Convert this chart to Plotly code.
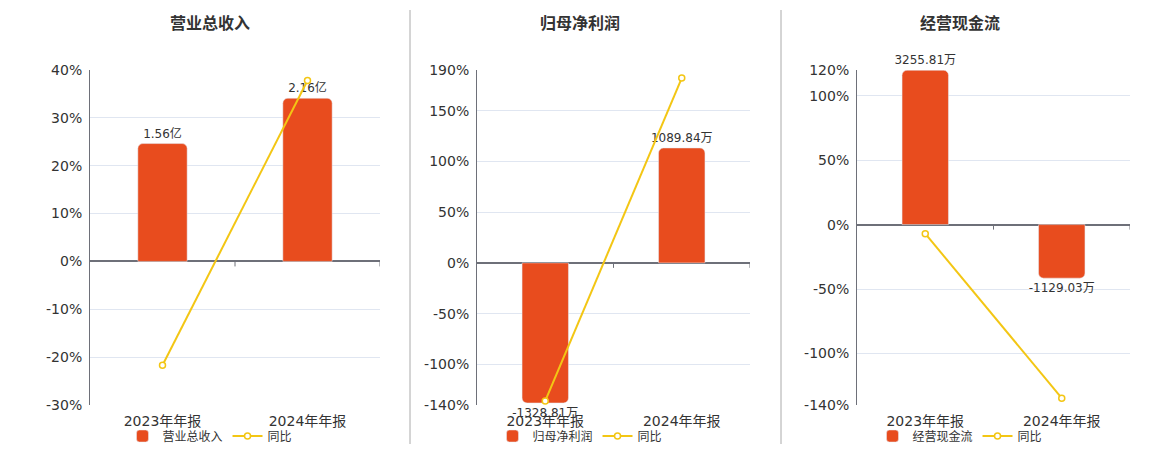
import plotly.graph_objects as go

W, H = 1160, 450
OFF = 8  # page margin around the figure

periods = ['2023年年报', '2024年年报']

titles = ['营业总收入', '归母净利润', '经营现金流']

revenue = [1.56, 2.16]            # 亿
revenue_yoy = [-21.7, 37.8]       # %
net_profit = [-1328.81, 1089.84]  # 万
net_profit_yoy = [-136.0, 182.0]
cash_flow = [3255.81, -1129.03]   # 万
cash_flow_yoy = [-7.0, -134.7]

units = ['亿', '万', '万']

pct_ticks = [
    [-30, -20, -10, 0, 10, 20, 30, 40],
    [-140, -100, -50, 0, 50, 100, 150, 190],
    [-140, -100, -50, 0, 50, 100, 120],
]

BAR_COLOR = '#e84c1e'
LINE_COLOR = '#f3c614'
AXIS_COLOR = '#6e7079'
GRID_COLOR = '#e0e6f1'
TXT = '#333333'


def fx(px):
    return (px - OFF) / W


def fy(py):
    return 1 - (py - OFF) / H


# pixel layout of each panel: plot left/right, title/legend center
panels = [
    dict(left=90, right=380, center=210, peak=34.1),
    dict(left=477, right=750, center=580, peak=138.0),
    dict(left=857, right=1130, center=960, peak=119.8),
]
top_px, bottom_px = 70, 405

values = [revenue, net_profit, cash_flow]
yoys = [revenue_yoy, net_profit_yoy, cash_flow_yoy]

fig = go.Figure()

for i in range(3):
    n = '' if i == 0 else str(i + 1)
    bar_ax = 'y' + n
    pct_ax = 'y' + str(i + 4)
    x_ax = 'x' + n
    leg = 'legend' + n

    vals = values[i]
    fig.add_trace(go.Bar(
        x=periods, y=vals,
        xaxis=x_ax, yaxis=bar_ax,
        name=titles[i],
        marker=dict(color=BAR_COLOR, cornerradius=5),
        width=0.34,
        text=[f'{v:.2f}{units[i]}' for v in vals],
        textposition='outside',
        textfont=dict(size=12, color=TXT, family='DejaVu Sans, Noto Sans CJK SC'),
        constraintext='none',
        cliponaxis=False,
        legend=leg,
    ))
    fig.add_trace(go.Scatter(
        x=periods, y=yoys[i],
        xaxis=x_ax, yaxis=pct_ax,
        name='同比',
        mode='lines+markers',
        line=dict(color=LINE_COLOR, width=2),
        marker=dict(symbol='circle', size=6, color='white',
                    line=dict(color=LINE_COLOR, width=1.5)),
        cliponaxis=False,
        legend=leg,
    ))

    p = panels[i]
    dom_x = [fx(p['left']), fx(p['right'])]
    dom_y = [fy(bottom_px), fy(top_px)]
    ticks = pct_ticks[i]
    lo, hi = ticks[0], ticks[-1]
    scale = max(abs(v) for v in vals) / p['peak']

    fig.update_layout({
        'xaxis' + n: dict(
            domain=dom_x, anchor=bar_ax, type='category',
            range=[-0.5, 1.5],
            showgrid=False, showline=False, zeroline=False,
            tickfont=dict(size=14, color=TXT, family='DejaVu Sans, Noto Sans CJK SC'),
            ticks='', ticklabelstandoff=6,
        ),
        'yaxis' + n: dict(
            domain=dom_y, anchor=x_ax,
            range=[lo * scale, hi * scale],
            visible=False,
        ),
        'yaxis' + str(i + 4): dict(
            overlaying=bar_ax, anchor=x_ax, side='left',
            range=[lo, hi], tickmode='array',
            tickvals=ticks, ticktext=[f'{t}%' for t in ticks],
            showgrid=True, gridcolor=GRID_COLOR, gridwidth=1,
            zeroline=True, zerolinecolor=AXIS_COLOR, zerolinewidth=2,
            showline=True, linecolor=AXIS_COLOR, linewidth=1,
            tickfont=dict(size=14, color=TXT, family='DejaVu Sans'),
            ticks='', ticklabelstandoff=4,
        ),
        leg: dict(
            orientation='h', x=fx(p['center']), xanchor='center',
            y=fy(436), yanchor='middle',
            font=dict(size=12, color=TXT, family='Noto Sans CJK SC'),
            bgcolor='rgba(0,0,0,0)', itemwidth=30,
        ),
    })

    # small category-boundary ticks hanging from the zero line
    for bx in [0.5, 1.5]:
        fig.add_shape(type='line', xref=x_ax, yref=pct_ax,
                      ysizemode='pixel', yanchor=0,
                      x0=bx, x1=bx, y0=0, y1=-5,
                      line=dict(color=AXIS_COLOR, width=1))

    fig.add_annotation(
        text=f'<b>{titles[i]}</b>', xref='paper', yref='paper',
        x=fx(p['center']), y=fy(22), xanchor='center', yanchor='middle',
        showarrow=False,
        font=dict(size=16, color=TXT, family='Noto Sans CJK SC'),
    )

# separators between panels
for sx in [410, 781]:
    fig.add_shape(type='line', xref='paper', yref='paper',
                  x0=fx(sx), x1=fx(sx), y0=fy(444), y1=fy(10),
                  line=dict(color='#aaaaaa', width=1))

fig.update_layout(
    width=W, height=H,
    margin=dict(l=0, r=0, t=0, b=0, autoexpand=False),
    paper_bgcolor='white', plot_bgcolor='white',
    showlegend=True,
    font=dict(family='DejaVu Sans, Noto Sans CJK SC', color=TXT),
)

fig.write_html('out.html')
